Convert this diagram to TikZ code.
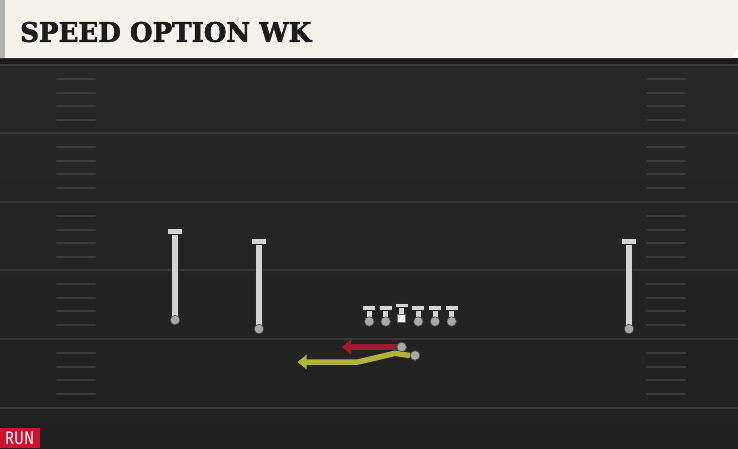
\documentclass[tikz,border=0pt]{standalone}
\usepackage{fontspec}
\usepackage{graphicx}
\usetikzlibrary{arrows.meta}
\newfontfamily\titlefont[FakeBold=2]{DejaVu Serif}
\newfontfamily\tagfont{Fira Sans}
\definecolor{cream}{HTML}{F5F2EB}
\definecolor{stripgray}{HTML}{B2B2B2}
\definecolor{fieldtop}{HTML}{282828}
\definecolor{fieldbot}{HTML}{202020}
\definecolor{band}{HTML}{1B1B1B}
\definecolor{yardline}{HTML}{383838}
\definecolor{hashc}{HTML}{3B3B3B}
\definecolor{stemc}{HTML}{D4D4D4}
\definecolor{ballc}{HTML}{A8A8A8}
\definecolor{routered}{HTML}{A3182F}
\definecolor{routeyel}{HTML}{B3B23A}
\definecolor{runred}{HTML}{CC1230}
\definecolor{titleink}{HTML}{1C1C1C}
\tikzset{
  yard/.style={draw=yardline,line width=2pt},
  hashm/.style={draw=hashc,line width=2pt,line cap=round},
  stemout/.style={draw=black!85,line width=8.5pt},
  stemin/.style={draw=stemc,line width=6pt},
  tbar/.style={draw=black!85,fill=stemc,line width=1pt},
  ball/.style={circle,draw=black!70,fill=ballc,line width=0.6pt,inner sep=0pt,minimum size=9.5pt},
  centerbox/.style={rectangle,fill=white,draw=black!60,line width=0.5pt,inner sep=0pt,minimum size=8pt},
  route/.style={line width=5.5pt,line join=round,-{Triangle[width=14pt,length=9pt]}},
}
% receiver: name, x, top y, ball y
\newcommand{\recvr}[4]{%
  \draw[stemout] (#2,#3) -- (#2,#4);
  \draw[stemin] (#2,#3) -- (#2,#4);
  \draw[tbar] (#2-7.5,#3-2.5) rectangle (#2+7.5,#3+3);
  \node[ball] (#1) at (#2,#4) {};
}
% lineman: name, x, bar top y
\newcommand{\linem}[3]{%
  \draw[draw=black!85,line width=7pt] (#2,#3+2) -- (#2,#3+15);
  \draw[draw=stemc,line width=5pt] (#2,#3+2) -- (#2,#3+15);
  \draw[tbar] (#2-6.5,#3) rectangle (#2+6.5,#3+4.5);
  \node[ball] (#1) at (#2,#3+16) {};
}
\begin{document}
\begin{tikzpicture}[x=1pt,y=-1pt]
\useasboundingbox (0,0) rectangle (738,448);
% field
\shade[top color=fieldtop,bottom color=fieldbot] (0,58) rectangle (738,448);
\fill[band] (0,58) rectangle (738,64);
% yard lines
\foreach \yy in {65,133,201.5,270,338.5,408} {
  \draw[yard] (0,\yy) -- (738,\yy);
}
% hash marks
\foreach \yy in {65,133,201.5,270,338.5} {
  \foreach \dd in {14,28,41,55} {
    \draw[hashm] (57,\yy+\dd) -- (95,\yy+\dd);
    \draw[hashm] (647,\yy+\dd) -- (685,\yy+\dd);
  }
}
% header
\fill[cream] (0,0) -- (738,0) -- (738,48) -- (732,58) -- (0,58) -- cycle;
\fill[stripgray] (0,0) rectangle (5,58);
\node[anchor=west,inner sep=0pt,text=titleink] (title) at (20,32) {\resizebox{291pt}{20pt}{\titlefont\bfseries SPEED OPTION WK}};
% run tag
\fill[runred] (0,427.5) rectangle (40,448);
\node[anchor=west,inner sep=0pt,text=white] (runtag) at (5,438.5) {\resizebox{29pt}{12.5pt}{\tagfont RUN}};
% receivers
\recvr{wra}{175}{231}{320}
\recvr{wrb}{259}{241}{329}
\recvr{wrc}{629}{241}{329}
% line
\linem{lt}{369.3}{305.5}
\linem{lg}{385.7}{305.5}
\linem{rg}{418.3}{305.5}
\linem{rt}{435}{305.5}
\linem{te}{451.7}{305.5}
% center
\draw[draw=black!85,line width=7pt] (401.7,305) -- (401.7,316);
\draw[draw=stemc,line width=5pt] (401.7,305) -- (401.7,316);
\draw[tbar] (395.2,303) rectangle (408.2,307.5);
\node[centerbox] (ctr) at (401.7,318.5) {};
% backs and routes
\coordinate (qbend) at (342,347);
\coordinate (rbbend1) at (395,353.3);
\coordinate (rbbend2) at (358,362);
\coordinate (rbend) at (297.5,362);
\node[ball] (qbstart) at (401.7,347) {};
\node[ball] (rbstart) at (415,355.5) {};
\draw[route,routered] (qbstart.west) -- (qbend);
\draw[route,routeyel] (rbstart.west) -- (rbbend1) -- (rbbend2) -- (rbend);
\node[ball] at (401.7,347) {};
\node[ball] at (415,355.5) {};
\end{tikzpicture}
\end{document}
